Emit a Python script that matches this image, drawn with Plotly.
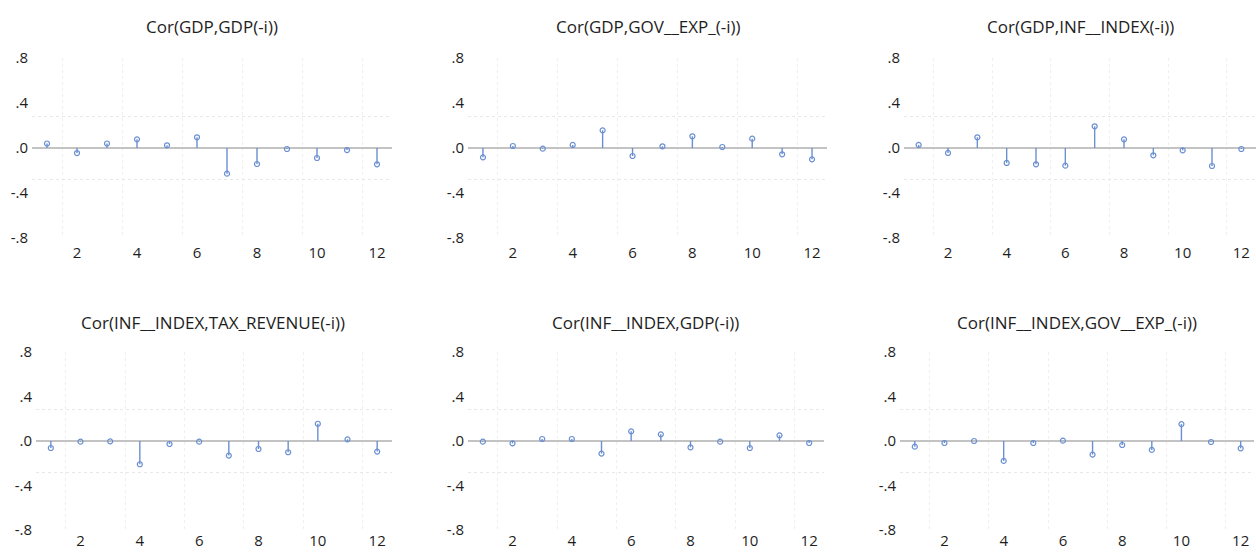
import plotly.graph_objects as go

lags = list(range(1, 13))

titles = [
    "Cor(GDP,GDP(-i))",
    "Cor(GDP,GOV__EXP_(-i))",
    "Cor(GDP,INF__INDEX(-i))",
    "Cor(INF__INDEX,TAX_REVENUE(-i))",
    "Cor(INF__INDEX,GDP(-i))",
    "Cor(INF__INDEX,GOV__EXP_(-i))",
]

gdp_gdp = [0.040, -0.045, 0.040, 0.077, 0.024, 0.095, -0.228, -0.142, -0.009, -0.089, -0.018, -0.145]
gdp_govexp = [-0.083, 0.018, -0.006, 0.027, 0.157, -0.071, 0.015, 0.104, 0.009, 0.083, -0.056, -0.101]
gdp_infindex = [0.027, -0.044, 0.095, -0.133, -0.145, -0.157, 0.193, 0.077, -0.065, -0.021, -0.160, -0.009]
inf_taxrev = [-0.063, -0.006, -0.003, -0.209, -0.027, -0.006, -0.131, -0.072, -0.101, 0.155, 0.015, -0.095]
inf_gdp = [-0.006, -0.021, 0.018, 0.018, -0.113, 0.087, 0.060, -0.057, -0.006, -0.063, 0.051, -0.018]
inf_govexp = [-0.051, -0.018, 0.000, -0.179, -0.018, 0.003, -0.122, -0.036, -0.080, 0.152, -0.009, -0.066]

series = [gdp_gdp, gdp_govexp, gdp_infindex, inf_taxrev, inf_gdp, inf_govexp]

conf_bound = 0.28
y_ticks = [-0.8, -0.4, 0.0, 0.4, 0.8]
y_ticktext = ["-.8", "-.4", ".0", ".4", ".8"]
x_ticks = [2, 4, 6, 8, 10, 12]

W, H = 1256, 552
# panel pixel boxes: (left, right, top, bottom, xmax, title_center_x)
boxes = [
    (32, 392, 58, 238, 12.5, 212),
    (468, 827, 58, 238, 12.5, 648),
    (904, 1256, 58, 238, 12.5, 1080),
    (36, 392, 352, 530, 12.5, 213),
    (468, 824, 352, 530, 12.5, 645),
    (900, 1254, 352, 530, 12.45, 1077),
]
title_y = [27, 27, 27, 322, 322, 322]
x_standoff = [4, 4, 4, 0, 0, 0]

STEM = "#6a8fd2"
FONT = "Open Sans"
TXT = "#1e1e1e"

fig = go.Figure()
layout = dict(
    width=W, height=H,
    margin=dict(l=0, r=0, t=0, b=0, pad=0),
    paper_bgcolor="white", plot_bgcolor="white",
    showlegend=False,
    font=dict(family=FONT, size=15, color=TXT),
)
annotations = []

for i, (vals, title, box) in enumerate(zip(series, titles, boxes)):
    n = i + 1
    xa = "x" if n == 1 else f"x{n}"
    ya = "y" if n == 1 else f"y{n}"
    l, r, t, b, xmax, tcx = box
    # stems built from the data
    sx, sy = [], []
    for lag, v in zip(lags, vals):
        sx += [lag, lag, None]
        sy += [0, v, None]
    fig.add_trace(go.Scatter(x=sx, y=sy, mode="lines", line=dict(color=STEM, width=1.4),
                             xaxis=xa, yaxis=ya, hoverinfo="skip"))
    fig.add_trace(go.Scatter(x=lags, y=vals, mode="markers",
                             marker=dict(symbol="circle-open", size=5, color=STEM, line=dict(width=1.2)),
                             xaxis=xa, yaxis=ya))
    layout["xaxis" if n == 1 else f"xaxis{n}"] = dict(
        domain=[l / W, r / W], anchor=ya, range=[0.5, xmax], automargin=False,
        tickvals=x_ticks, showgrid=False, zeroline=False, showline=False, ticks="",
        ticklabelstandoff=x_standoff[i], ticklabeloverflow="allow",
        tickfont=dict(size=15, family=FONT, color=TXT),
        minor=dict(tickvals=[1.5, 3.5, 5.5, 7.5, 9.5, 11.5], showgrid=True,
                   gridcolor="#efefef", gridwidth=1, griddash="dot", ticks=""),
        fixedrange=True,
    )
    layout["yaxis" if n == 1 else f"yaxis{n}"] = dict(
        domain=[1 - b / H, 1 - t / H], anchor=xa, range=[-0.8, 0.8], automargin=False,
        tickvals=y_ticks, ticktext=y_ticktext, showgrid=False,
        zeroline=True, zerolinecolor="#c3c3c3", zerolinewidth=2,
        showline=False, ticks="", ticklabelstandoff=3,
        tickfont=dict(size=15, family=FONT, color=TXT),
        minor=dict(tickvals=[-conf_bound, conf_bound], showgrid=True,
                   gridcolor="#e8e8e8", gridwidth=1, griddash="dot", ticks=""),
        fixedrange=True,
    )
    annotations.append(dict(
        text=title, x=tcx / W, y=1 - title_y[i] / H, xref="paper", yref="paper",
        xanchor="center", yanchor="middle", showarrow=False,
        font=dict(size=17, family=FONT, color=TXT),
    ))

layout["annotations"] = annotations
fig.update_layout(**layout)
fig.write_html("out.html", config={"displayModeBar": False},
               post_script="document.body.style.margin='0';document.body.style.overflow='hidden';")
